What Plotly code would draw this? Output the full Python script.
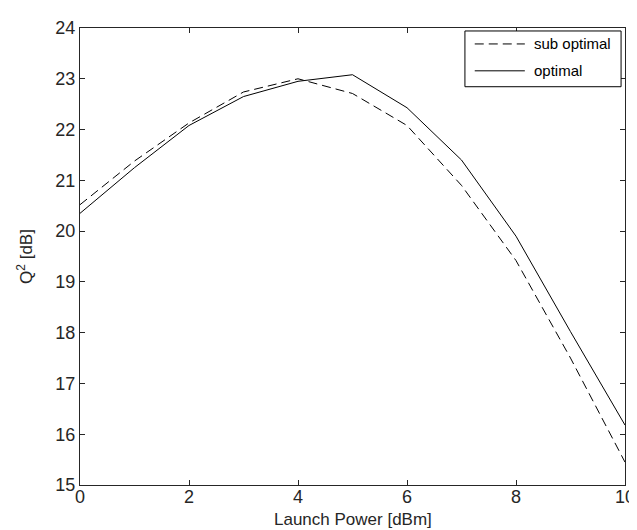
import plotly.graph_objects as go

launch_power = [0, 1, 2, 3, 4, 5, 6, 7, 8, 9, 10]
q2_sub_optimal = [20.52, 21.38, 22.13, 22.74, 23.0, 22.71, 22.08, 20.9, 19.42, 17.5, 15.45]
q2_optimal = [20.35, 21.25, 22.08, 22.65, 22.95, 23.08, 22.43, 21.4, 19.9, 18.02, 16.18]
series_names = ["sub optimal", "optimal"]
x_ticks = [0, 2, 4, 6, 8, 10]
y_ticks = [15, 16, 17, 18, 19, 20, 21, 22, 23, 24]

font_family = "Liberation Sans, Arial, sans-serif"
ink = "#262626"
dash_style = "9px,5px"

fig = go.Figure()
fig.add_trace(go.Scatter(x=launch_power, y=q2_sub_optimal, mode="lines", name=series_names[0],
                         line=dict(color="black", width=1, dash=dash_style)))
fig.add_trace(go.Scatter(x=launch_power, y=q2_optimal, mode="lines", name=series_names[1],
                         line=dict(color="black", width=1)))

axis_common = dict(showgrid=False, zeroline=False, showline=True, linecolor=ink, linewidth=1,
                   mirror="ticks", ticks="inside", ticklen=5, tickcolor=ink,
                   tickfont=dict(family=font_family, size=18, color=ink))

fig.update_xaxes(range=[0, 10], tickvals=x_ticks, ticktext=[str(v) for v in x_ticks],
                 ticklabelstandoff=-5, **axis_common)
fig.update_yaxes(range=[15, 24], tickvals=y_ticks, ticktext=[str(v) for v in y_ticks],
                 title=dict(text="Q<sup>2</sup> [dB]", font=dict(family=font_family, size=17, color=ink), standoff=18),
                 **axis_common)

# x-axis title as annotation so it sits where the reference has it
fig.add_annotation(xref="paper", yref="paper", x=0.5, y=-0.0763, xanchor="center", yanchor="middle",
                   text="Launch Power [dBm]", showarrow=False,
                   font=dict(family=font_family, size=17, color=ink))

# legend drawn manually to match the reference box layout
lx0, lx1, ly0, ly1 = 0.7063, 0.9928, 0.8715, 0.9935
fig.add_shape(type="rect", xref="paper", yref="paper", x0=lx0, x1=lx1, y0=ly0, y1=ly1,
              line=dict(color="black", width=1), fillcolor="white", layer="above")
legend_rows = [0.9651, 0.9063]
legend_dashes = [dash_style, "solid"]
for name, yy, dsh in zip(series_names, legend_rows, legend_dashes):
    fig.add_shape(type="line", xref="paper", yref="paper", x0=0.7243, x1=0.8162, y0=yy, y1=yy,
                  line=dict(color="black", width=1, dash=dsh), layer="above")
    fig.add_annotation(xref="paper", yref="paper", x=0.8288, y=yy, xanchor="left", yanchor="middle",
                       text=name, showarrow=False,
                       font=dict(family=font_family, size=15, color="black"))

fig.update_layout(
    width=637, height=530,
    margin=dict(l=72, r=10, t=18, b=53),
    paper_bgcolor="white", plot_bgcolor="white",
    showlegend=False,
)

fig.write_html("out.html")
